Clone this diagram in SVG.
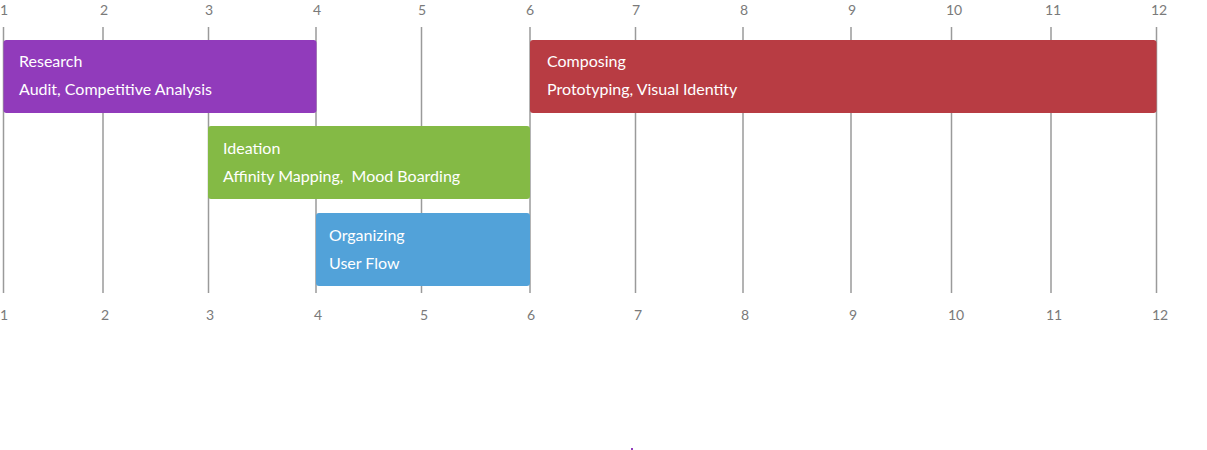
<svg xmlns="http://www.w3.org/2000/svg" width="1207" height="450" viewBox="0 0 1207 450">
<style>
.grid line{stroke:#9a9a9a;stroke-width:1.5}
.tick{font-family:Lato,"Open Sans",sans-serif;font-size:14px;fill:#7a7a7a;text-anchor:middle}
.bar{stroke:none}
.t{font-family:Lato,"Open Sans",sans-serif;font-size:16px;fill:#fff;white-space:pre}
</style>
<rect width="1207" height="450" fill="#fff"/>
<g id="grid" class="grid">
<line x1="3.5" y1="27" x2="3.5" y2="293"/>
<line x1="103" y1="27" x2="103" y2="293"/>
<line x1="208.5" y1="27" x2="208.5" y2="293"/>
<line x1="316" y1="27" x2="316" y2="293"/>
<line x1="421.5" y1="27" x2="421.5" y2="293"/>
<line x1="530" y1="27" x2="530" y2="293"/>
<line x1="635.5" y1="27" x2="635.5" y2="293"/>
<line x1="743" y1="27" x2="743" y2="293"/>
<line x1="851" y1="27" x2="851" y2="293"/>
<line x1="951.5" y1="27" x2="951.5" y2="293"/>
<line x1="1051" y1="27" x2="1051" y2="293"/>
<line x1="1156.5" y1="27" x2="1156.5" y2="293"/>
</g>
<g id="ticks-top">
<text class="tick" x="4" y="15">1</text>
<text class="tick" x="104" y="15">2</text>
<text class="tick" x="209" y="15">3</text>
<text class="tick" x="317" y="15">4</text>
<text class="tick" x="422" y="15">5</text>
<text class="tick" x="530" y="15">6</text>
<text class="tick" x="636" y="15">7</text>
<text class="tick" x="744" y="15">8</text>
<text class="tick" x="852" y="15">9</text>
<text class="tick" x="954" y="15">10</text>
<text class="tick" x="1053" y="15">11</text>
<text class="tick" x="1159" y="15">12</text>
</g>
<g id="ticks-bottom">
<text class="tick" x="4" y="320">1</text>
<text class="tick" x="105" y="320">2</text>
<text class="tick" x="210" y="320">3</text>
<text class="tick" x="318" y="320">4</text>
<text class="tick" x="424" y="320">5</text>
<text class="tick" x="531" y="320">6</text>
<text class="tick" x="638" y="320">7</text>
<text class="tick" x="745" y="320">8</text>
<text class="tick" x="853" y="320">9</text>
<text class="tick" x="956" y="320">10</text>
<text class="tick" x="1054" y="320">11</text>
<text class="tick" x="1160" y="320">12</text>
</g>
<g id="research">
<rect class="bar" x="3.5" y="40" width="313" height="73" rx="3" fill="#913bbb"/>
<text class="t" x="19" y="67">Research</text>
<text class="t" x="19" y="95">Audit, Competitive Analysis</text>
</g>
<g id="composing">
<rect class="bar" x="530" y="40" width="626.5" height="73" rx="3" fill="#b83c43"/>
<text class="t" x="547" y="67">Composing</text>
<text class="t" x="547" y="95">Prototyping, Visual Identity</text>
</g>
<g id="ideation">
<rect class="bar" x="208" y="126" width="322" height="73" rx="3" fill="#84ba45"/>
<text class="t" x="223" y="154">Ideation</text>
<text class="t" x="223" y="182" xml:space="preserve">Affinity Mapping,  Mood Boarding</text>
</g>
<g id="organizing">
<rect class="bar" x="316" y="213" width="214" height="73" rx="3" fill="#52a2d9"/>
<text class="t" x="329" y="241">Organizing</text>
<text class="t" x="329" y="269">User Flow</text>
</g>
<rect x="631" y="448" width="2" height="2" fill="#913bbb"/>
</svg>
